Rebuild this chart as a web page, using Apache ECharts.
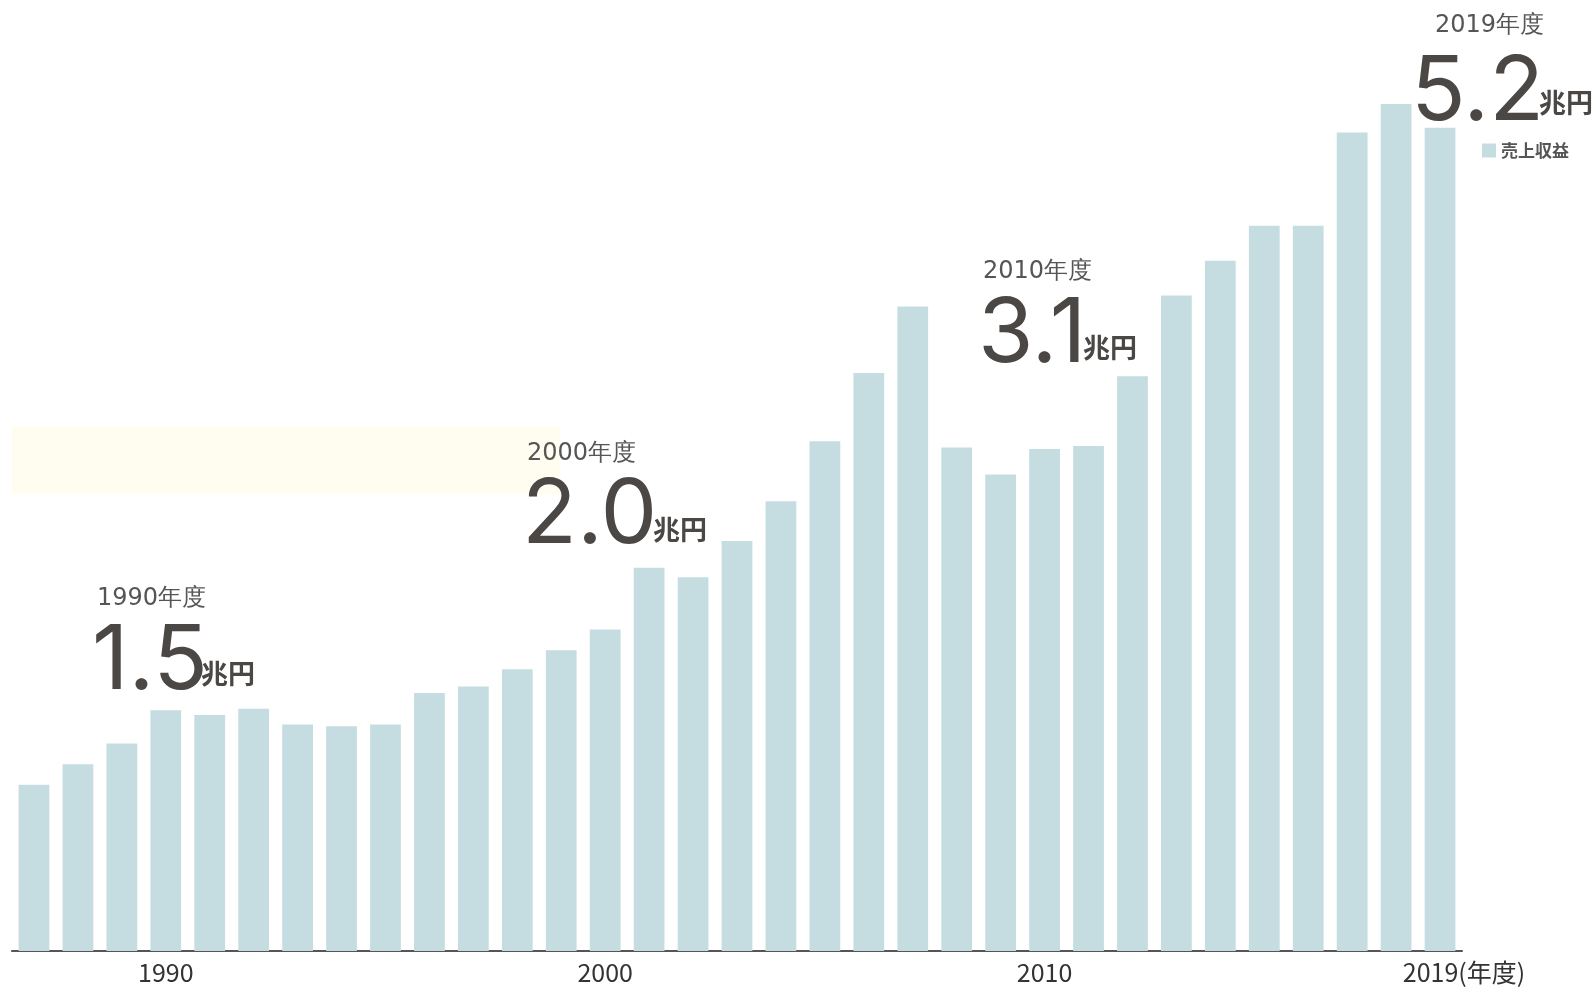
<!DOCTYPE html>
<html>
<head>
<meta charset="utf-8">
<script src="https://cdn.jsdelivr.net/npm/echarts@6/dist/echarts.min.js"></script>
<style>
html,body{margin:0;padding:0;background:#fff;}
#c{width:1595px;height:987px;}
</style>
</head>
<body>
<div id="c"></div>
<script>
const years = ['1987','1988','1989','1990','1991','1992','1993','1994','1995','1996','1997','1998','1999','2000','2001','2002','2003','2004','2005','2006','2007','2008','2009','2010','2011','2012','2013','2014','2015','2016','2017','2018','2019'];
const revenue = [1.05,1.18,1.31,1.52,1.49,1.53,1.43,1.42,1.43,1.63,1.67,1.78,1.90,2.03,2.42,2.36,2.59,2.84,3.22,3.65,4.07,3.18,3.01,3.17,3.19,3.63,4.14,4.36,4.58,4.58,5.17,5.35,5.20];
const tickYears = ['1990','2000','2010','2019'];
const seriesName = '売上収益';
const calloutYears = ['1990年度','2000年度','2010年度','2019年度'];
const calloutValues = ['1.5','2.0','3.1','5.2'];
const calloutUnit = '兆円';

// layout positions for callouts (pixels)
const calloutPos = [
  {x:97,   yy:599, nx:92,   ny:662, ux:201,  uy:674},
  {x:527,  yy:454, nx:522,  ny:516, ux:653,  uy:530},
  {x:983,  yy:272, nx:978,  ny:335, ux:1083, uy:348},
  {x:1435, yy:26,  nx:1411, ny:93,  ux:1539, uy:103}
];

const chart = echarts.init(document.getElementById('c'));
const graphics = [
  {type:'rect', z:-10, shape:{x:12,y:426,width:548,height:68}, style:{fill:'#fffdf0'}}
];
calloutYears.forEach((yr,i)=>{
  const p = calloutPos[i];
  graphics.push({type:'text', z:10, style:{text:yr, x:p.x, y:p.yy, font:'24px "DejaVu Sans", sans-serif', fill:'#555', textAlign:'left', textVerticalAlign:'middle'}});
  graphics.push({type:'text', z:10, style:{text:calloutValues[i], x:p.nx, y:p.ny, font:'90px Inter, sans-serif', fill:'#4a4744', textAlign:'left', textVerticalAlign:'middle'}});
  graphics.push({type:'text', z:10, style:{text:calloutUnit, x:p.ux, y:p.uy, font:'bold 27px "Noto Sans CJK JP", sans-serif', fill:'#4a4744', textAlign:'left', textVerticalAlign:'middle'}});
});

chart.setOption({
  backgroundColor:'#ffffff',
  animation:false,
  grid:{left:12, right:133, top:1, bottom:36},
  legend:{
    data:[seriesName], left:1477, top:137, itemWidth:14, itemHeight:14, itemGap:6,
    icon:'rect',
    textStyle:{fontSize:17, color:'#555', fontFamily:'"Noto Sans CJK JP", sans-serif', fontWeight:'bold'}
  },
  xAxis:{
    type:'category', data:years, boundaryGap:true,
    axisLine:{show:true, lineStyle:{color:'#555', width:2}},
    axisTick:{show:false},
    axisLabel:{
      interval:function(idx, val){ return tickYears.indexOf(val) >= 0; },
      margin:9,
      formatter:function(val){ return val === '2019' ? '{s|2019(年度)}' : val; },
      color:'#333', fontSize:25, fontFamily:'"Noto Sans CJK JP", sans-serif',
      rich:{s:{padding:[0,0,0,48], fontSize:25, color:'#333', fontFamily:'"Noto Sans CJK JP", sans-serif'}}
    }
  },
  yAxis:{type:'value', min:0, max:6, show:false, splitLine:{show:false}},
  series:[{
    name:seriesName, type:'bar', data:revenue, barWidth:'70%',
    itemStyle:{color:'#c5dde0'}
  }],
  graphic:graphics
});
</script>
</body>
</html>
